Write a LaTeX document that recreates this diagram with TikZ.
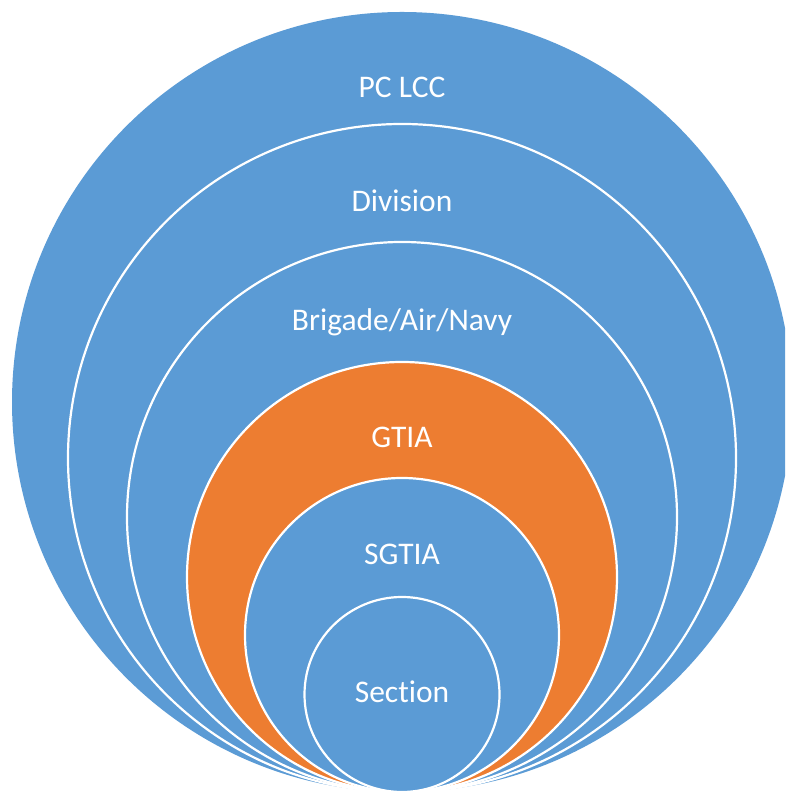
\documentclass[tikz,border=0pt]{standalone}
\usepackage{fontspec}
\setmainfont{Carlito}[Ligatures={NoCommon}]
\usetikzlibrary{positioning}
\definecolor{ringblue}{HTML}{5B9BD5}
\definecolor{ringorange}{HTML}{ED7D31}
\tikzset{
  ring/.style={circle, draw=white, line width=2.2pt, inner sep=0pt, fill=ringblue},
  ringlabel/.style={text=white, anchor=base, font=\fontsize{31.5}{37}\selectfont}
}

\begin{document}
\begin{tikzpicture}[x=1pt, y=1pt]
  \useasboundingbox (0,0) rectangle (785,791);
  \clip (0,0) rectangle (785,791);
  % anneaux emboites
  \node[ring, draw=none, minimum size=780pt] (pclcc) at (402,389) {};
  \node[ring, minimum size=668pt] (division) at (402,333) {};
  \node[ring, minimum size=550pt] (brigade) at (402,274) {};
  \node[ring, fill=ringorange, minimum size=430pt] (gtia) at (402,214) {};
  \node[ring, minimum size=314pt] (sgtia) at (402,156) {};
  \node[ring, minimum size=195pt] (section) at (402,96.5) {};

  % textes
  \node[ringlabel] (pclcc_t) at (402,693) {PC LCC};
  \node[ringlabel] (division_t) at (402,579) {Division};
  \node[ringlabel] (brigade_t) at (402,460) {Brigade/Air/Navy};
  \node[ringlabel] (gtia_t) at (402,343) {GTIA};
  \node[ringlabel] (sgtia_t) at (402,226) {SGTIA};
  \node[ringlabel] (section_t) at (402,88) {Section};
\end{tikzpicture}
\end{document}
